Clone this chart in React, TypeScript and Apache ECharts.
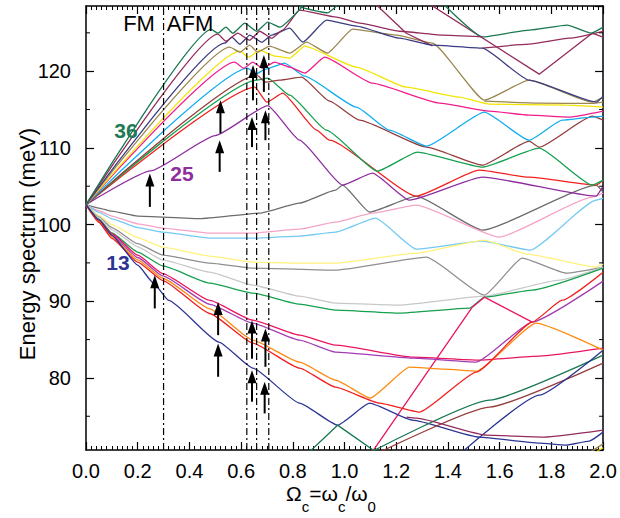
import React, { useEffect, useRef } from "react";
import * as echarts from "echarts";

const FAM = '"Liberation Sans", Arial, Helvetica, sans-serif';

// ---- curves: [Omega_c, energy meV] ----
const g1 = [[0,102.6],[0.485,125.44],[0.51,124.95],[0.541,125.74],[0.568,124.95],[0.614,126.26],[0.66,125.21],[0.703,126.39],[0.749,125.74],[0.86,129.3]];
const m1 = [[0,102.6],[0.51,124.82],[0.541,123.91],[0.587,124.95],[0.633,124.04],[0.672,125.21],[0.718,124.3],[0.761,125.35],[0.826,127.95],[0.969,127.04],[1.058,126.26],[1.212,125.21],[1.378,124.69],[1.533,124.47]];
const gTop = [[0.826,128.38],[0.934,127.6],[0.99,129.2]];
const gRight = [[1.367,129.26],[1.533,124.47],[1.714,125.35],[1.861,126.0],[1.954,124.95],[2.0,125.74]];
const n1 = [[0,102.6],[0.537,123.65],[0.564,124.43],[0.595,123.52],[0.633,124.69],[0.68,123.78],[0.718,124.69],[0.788,125.61],[0.838,123.78],[0.93,126.65],[1.046,125.87],[1.212,124.3],[1.34,123.39],[1.533,123.0],[1.714,118.83],[1.973,115.96],[2.0,116.74]];
const mRight = [[1.533,123.0],[1.714,123.52],[1.869,124.3],[2.0,125.2]];
const mDiag = [[1.305,129.26],[1.753,119.61],[1.958,124.95],[2.0,124.43]];
const mDiag2 = [[1.104,129.26],[1.239,124.95],[1.34,123.3]];
const o1 = [[0,102.6],[0.556,123.13],[0.595,122.48],[0.633,123.39],[0.664,122.48],[0.71,123.26],[0.788,122.35],[0.853,123.78],[0.934,122.35],[1.031,125.48],[1.201,124.69],[1.34,123.65],[1.541,116.22],[1.714,118.83],[1.958,115.97],[2.0,116.6]];
const oFlat = [[1.541,116.09],[1.753,115.83],[1.958,115.79],[2.0,115.96]];
const y1 = [[0,102.6],[0.595,122.61],[0.629,121.82],[0.672,122.74],[0.73,121.96],[0.788,121.7],[0.846,123.26],[1.046,120.52],[1.239,117.91],[1.444,116.61],[1.56,115.7],[1.857,115.57],[2.0,115.31]];
const p1 = [[0,102.6],[0.575,121.17],[0.61,120.39],[0.645,121.17],[0.683,120.39],[0.73,121.17],[0.788,120.52],[0.846,119.74],[0.923,121.82],[1.108,118.43],[1.367,115.83],[1.56,114.78],[1.714,114.26],[1.869,114.0],[2.0,114.78]];
const c1 = [[0,102.6],[0.625,120.39],[0.656,119.61],[0.695,120.26],[0.768,121.04],[0.846,119.35],[1.046,115.31],[1.174,112.31],[1.317,110.22],[1.541,114.65],[1.714,111.0],[1.842,113.61],[1.958,114.0],[2.0,114.13]];
const b1 = [[0,102.6],[0.66,119.48],[0.695,118.57],[0.749,118.83],[0.834,119.22],[0.942,116.09],[1.058,113.61],[1.317,110.09],[1.533,107.74],[1.714,110.87],[1.753,110.09],[1.958,114.13],[2.0,113.61]];
const g2 = [[0,102.6],[0.66,118.83],[0.703,119.09],[0.788,116.87],[0.93,112.31],[1.127,106.96],[1.282,109.44],[1.533,107.48],[1.753,109.96],[1.958,105.14],[2.0,105.79]];
const r1 = [[0,102.6],[0.653,117.91],[0.699,115.96],[0.761,117.13],[0.892,112.31],[0.942,111.0],[1.278,103.7],[1.521,107.09],[1.714,106.18],[1.973,105.14],[2.0,105.79]];
const v1 = [[0,102.6],[0.25,107.0],[0.5,111.6],[0.703,115.5],[0.826,111.0],[0.992,105.14],[1.108,106.7],[1.251,103.18],[1.533,106.18],[1.973,103.7],[2.0,105.0]];

const gray1 = [[0,102.6],[0.05,102.15],[0.1,101.75],[0.2,101.1],[0.44,100.77],[0.672,101.49],[0.826,102.79],[0.965,104.49],[0.992,105.14],[1.097,101.62],[1.278,103.7],[1.533,99.27],[1.973,105.14],[2.0,104.23]];
const pink = [[0,102.6],[0.05,101.8],[0.1,101.1],[0.2,100.1],[0.297,99.53],[0.479,98.88],[0.645,98.88],[0.826,99.4],[0.965,100.31],[1.108,101.49],[1.278,102.53],[1.598,98.36],[1.958,103.57],[2.0,104.1]];
const ltblue = [[0,102.6],[0.05,101.6],[0.1,100.75],[0.2,99.6],[0.297,99.01],[0.479,98.23],[0.645,98.23],[0.826,98.49],[0.965,99.01],[1.12,100.83],[1.278,96.79],[1.533,97.84],[1.718,96.66],[1.973,103.18],[2.0,103.44]];
const ltyellow = [[0,102.6],[0.05,101.2],[0.1,100.0],[0.2,98.3],[0.297,97.05],[0.479,95.88],[0.645,95.1],[0.826,94.97],[0.965,94.97],[1.278,96.27],[1.541,97.97],[1.707,96.14],[1.973,94.45],[2.0,94.84]];
const gray2 = [[0,102.6],[0.05,101.0],[0.1,99.6],[0.2,97.5],[0.297,96.01],[0.479,94.97],[0.645,94.32],[0.965,94.05],[1.317,95.75],[1.541,90.79],[1.687,95.62],[1.857,93.66],[2.0,94.45]];
const ltgray = [[0,102.6],[0.05,100.9],[0.1,99.3],[0.2,97.1],[0.297,95.36],[0.479,93.79],[0.645,92.1],[0.826,90.66],[0.965,89.75],[1.212,89.49],[1.541,90.66],[1.83,92.75],[2.0,94.45]];
const green3 = [[0,102.6],[0.05,100.7],[0.1,98.9],[0.2,96.4],[0.297,94.6],[0.479,92.36],[0.645,91.06],[0.826,89.62],[0.965,88.84],[1.212,88.45],[1.483,89.1],[1.541,90.53],[1.726,91.45],[2.0,94.31]];
const crimson = [[0,102.6],[0.05,100.6],[0.1,98.8],[0.2,96.0],[0.297,93.6],[0.479,90.1],[0.645,87.53],[0.826,85.58],[0.965,84.27],[1.263,82.71],[1.521,82.32],[1.753,82.84],[2.0,83.88]];
const crimsonRise = [[1.1,70.0],[1.494,89.23],[1.541,90.53],[1.726,87.28]];
const purple2 = [[0,102.6],[0.05,100.5],[0.1,98.6],[0.2,95.7],[0.297,93.3],[0.479,89.6],[0.645,87.14],[0.826,84.93],[0.965,83.36],[1.263,82.58],[1.51,82.06],[1.726,87.28],[2.0,92.62]];
const orange = [[0,102.6],[0.05,100.4],[0.1,98.4],[0.2,95.4],[0.297,93.0],[0.479,89.0],[0.645,84.93],[0.826,82.06],[0.965,79.71],[1.1,77.37],[1.251,81.41],[1.386,81.15],[1.51,80.89],[1.741,87.14],[2.0,83.62]];
const red2 = [[0,102.6],[0.05,100.3],[0.1,98.2],[0.2,95.1],[0.297,92.7],[0.479,88.4],[0.645,84.54],[0.826,81.28],[0.965,78.8],[1.135,76.71],[1.29,75.54],[1.51,80.76],[1.726,87.28],[1.842,90.14],[2.0,93.79]];
const navy13 = [[0,102.6],[0.05,100.6],[0.1,98.6],[0.2,94.7],[0.26,92.4],[0.32,90.1],[0.514,84.67],[0.645,81.28],[0.826,76.71],[0.973,73.84],[1.097,76.71],[1.263,74.5],[1.521,72.28],[1.753,71.5],[1.857,71.24],[1.946,71.76],[2.0,72.93]];
const dgreenV = [[0.85,69.9],[0.973,73.84],[1.14,69.9]];
const dgreenRise = [[1.077,69.9],[1.56,77.1],[2.0,82.97]];
const maroonRise = [[1.11,69.9],[1.56,76.19],[2.0,81.93]];
const navyRise = [[1.44,69.9],[1.753,77.75],[2.0,83.62]];
const maroonLow = [[1.24,74.9],[1.278,74.76],[1.548,72.54],[1.772,72.28],[2.0,73.19]];
const oliveCorner = [[1.93,69.9],[2.0,71.4]];
const yellowCorner = [[1.97,70.3],[2.0,70.9]];

const markerLines = [0.3, 0.622, 0.66, 0.707];
const arrows = [
  [0.247,102.3,106.66],[0.517,106.87,111.0],[0.52,111.9,116.2],[0.642,110.1,114.04],
  [0.646,116.2,120.8],[0.694,111.0,114.9],[0.688,117.3,122.1],[0.266,89.06,93.4],
  [0.511,85.58,89.9],[0.511,80.15,84.5],[0.642,82.5,87.5],[0.642,76.9,81.0],
  [0.694,81.45,86.45],[0.691,75.37,79.5],
];
const yMinorTicks = [75, 85, 95, 105, 115, 125];
const Y_MIN = 70.6, Y_MAX = 128.5;

const curves = [
  { d: gray1, c: "#6c6c6c", s: 1 }, { d: pink, c: "#f5a3c7", s: 1 }, { d: ltblue, c: "#74c9f2", s: 1 },
  { d: ltyellow, c: "#fff27c", s: 1 }, { d: gray2, c: "#8f8f8f", s: 1 }, { d: ltgray, c: "#c8c8c8", s: 1 },
  { d: green3, c: "#14a04e", s: 1 }, { d: crimson, c: "#ea1560", s: 1 }, { d: crimsonRise, c: "#ea1560", s: 0 },
  { d: purple2, c: "#a23cb2", s: 1 }, { d: orange, c: "#ff8a12", s: 1 }, { d: red2, c: "#f21f1f", s: 1 },
  { d: navy13, c: "#2c3592", s: 1 }, { d: dgreenV, c: "#18784f", s: 0 }, { d: dgreenRise, c: "#18784f", s: 1 },
  { d: maroonRise, c: "#953b3b", s: 1 }, { d: navyRise, c: "#2c3592", s: 1 }, { d: maroonLow, c: "#932c5c", s: 1 },
  { d: oliveCorner, c: "#9b8650", s: 0 }, { d: yellowCorner, c: "#f3e500", s: 0 },
  { d: v1, c: "#8e2d9e", s: 1 }, { d: r1, c: "#f21f1f", s: 1 }, { d: g2, c: "#14a04e", s: 1 }, { d: b1, c: "#953b3b", s: 1 },
  { d: c1, c: "#12aef0", s: 1 }, { d: p1, c: "#f01a8c", s: 1 }, { d: y1, c: "#f3e500", s: 1 }, { d: oFlat, c: "#9b8650", s: 1 },
  { d: o1, c: "#9b8650", s: 1 }, { d: mDiag2, c: "#932c5c", s: 0 }, { d: mDiag, c: "#932c5c", s: 0 }, { d: mRight, c: "#932c5c", s: 1 },
  { d: n1, c: "#3a3a80", s: 1 }, { d: gRight, c: "#18784f", s: 1 }, { d: gTop, c: "#18784f", s: 1 }, { d: m1, c: "#932c5c", s: 1 },
  { d: g1, c: "#18784f", s: 1 },
];

export default function App() {
  const ref = useRef<HTMLDivElement>(null);
  useEffect(() => {
    document.body.style.margin = "0";
    const chart = echarts.init(ref.current!, null, { renderer: "svg" });
    const axisCommon = {
      axisLine: { show: true, onZero: false, lineStyle: { color: "#000", width: 1.5 } },
      axisTick: { show: true, inside: true, length: 8, lineStyle: { color: "#000", width: 1.2 } },
      splitLine: { show: false },
    };
    const series: any[] = curves.map((cv) => ({
      type: "line", data: cv.d, showSymbol: false, symbol: "none", silent: true,
      smooth: cv.s ? 0.15 : false, smoothMonotone: "x",
      lineStyle: { color: cv.c, width: 1.3 }, z: 2,
    }));
    markerLines.forEach((x) => series.push({
      type: "line", data: [[x, Y_MIN], [x, Y_MAX]], showSymbol: false, symbol: "none", silent: true,
      lineStyle: { color: "#000", width: 1.2, type: [7, 3, 2, 3] }, z: 3,
    }));
    series.push({
      type: "custom", data: arrows, silent: true, z: 5,
      renderItem: (params: any, api: any) => {
        const x = api.value(0), e0 = api.value(1), e1 = api.value(2);
        const p0 = api.coord([x, e0]);
        const p1 = api.coord([x, e1]);
        return {
          type: "group",
          children: [
            { type: "line", shape: { x1: p0[0], y1: p0[1], x2: p1[0], y2: p1[1] + 10 }, style: { stroke: "#000", lineWidth: 2 } },
            { type: "polygon", shape: { points: [[p1[0], p1[1]], [p1[0] - 4.5, p1[1] + 13], [p1[0] + 4.5, p1[1] + 13]] }, style: { fill: "#000" } },
          ],
        };
      },
    });
    series.push({
      type: "custom", data: yMinorTicks.map((v) => [v]), silent: true, z: 6,
      renderItem: (params: any, api: any) => {
        const v = api.value(0);
        const l = api.coord([0, v]);
        const r = api.coord([2, v]);
        return {
          type: "group",
          children: [
            { type: "line", shape: { x1: l[0], y1: l[1], x2: l[0] + 4, y2: l[1] }, style: { stroke: "#000", lineWidth: 1 } },
            { type: "line", shape: { x1: r[0], y1: r[1], x2: r[0] - 4, y2: r[1] }, style: { stroke: "#000", lineWidth: 1 } },
          ],
        };
      },
    });
    chart.setOption({
      animation: false,
      backgroundColor: "#fff",
      grid: { left: 86, right: 16, top: 6, bottom: 68, containLabel: false },
      xAxis: [
        {
          type: "value", min: 0, max: 2, interval: 0.2, position: "bottom", ...axisCommon,
          minorTick: { show: true, splitNumber: 10, length: 4, lineStyle: { color: "#000", width: 1 } },
          axisLabel: { fontSize: 20, color: "#000", margin: 11, fontFamily: FAM, formatter: (v: number) => v.toFixed(1) },
        },
        {
          type: "value", min: 0, max: 2, interval: 0.2, position: "top", ...axisCommon,
          minorTick: { show: true, splitNumber: 10, length: 4, lineStyle: { color: "#000", width: 1 } },
          axisLabel: { show: false },
        },
      ],
      yAxis: [
        {
          type: "value", min: Y_MIN, max: Y_MAX, splitNumber: 5, position: "left", ...axisCommon,
          axisLabel: { fontSize: 20, color: "#000", margin: 15, fontFamily: FAM, showMinLabel: false, showMaxLabel: false },
        },
        {
          type: "value", min: Y_MIN, max: Y_MAX, splitNumber: 5, position: "right", ...axisCommon,
          axisLabel: { show: false },
        },
      ],
      series,
      graphic: [
        { type: "text", x: 139, y: 23, style: { text: "FM", font: `22px ${FAM}`, fill: "#000", textAlign: "center", textVerticalAlign: "middle" }, z: 10 },
        { type: "text", x: 190, y: 23, style: { text: "AFM", font: `22px ${FAM}`, fill: "#000", textAlign: "center", textVerticalAlign: "middle" }, z: 10 },
        { type: "text", x: 126, y: 130, style: { text: "36", font: `bold 21px ${FAM}`, fill: "#1e7a55", textAlign: "center", textVerticalAlign: "middle" }, z: 10 },
        { type: "text", x: 182, y: 173, style: { text: "25", font: `bold 21px ${FAM}`, fill: "#8e2d9e", textAlign: "center", textVerticalAlign: "middle" }, z: 10 },
        { type: "text", x: 118, y: 262, style: { text: "13", font: `bold 21px ${FAM}`, fill: "#2c3592", textAlign: "center", textVerticalAlign: "middle" }, z: 10 },
        {
          type: "text", x: 27, y: 244, rotation: Math.PI / 2,
          style: { text: "Energy spectrum (meV)", font: `22px ${FAM}`, fill: "#000", textAlign: "center", textVerticalAlign: "middle" }, z: 10,
        },
        {
          type: "text", x: 331, y: 483,
          style: {
            text: "{a|Ω}{b|c}{a|=ω}{b|c}{a|/ω}{b|0}", textAlign: "center", textVerticalAlign: "top", fill: "#000",
            rich: {
              a: { fontSize: 21, fontFamily: FAM, lineHeight: 31, verticalAlign: "top", fill: "#000" },
              b: { fontSize: 15, fontFamily: FAM, lineHeight: 31, verticalAlign: "bottom", fill: "#000" },
            },
          }, z: 10,
        },
      ],
    });
    return () => chart.dispose();
  }, []);
  return <div ref={ref} style={{ width: 620, height: 518 }} />;
}
